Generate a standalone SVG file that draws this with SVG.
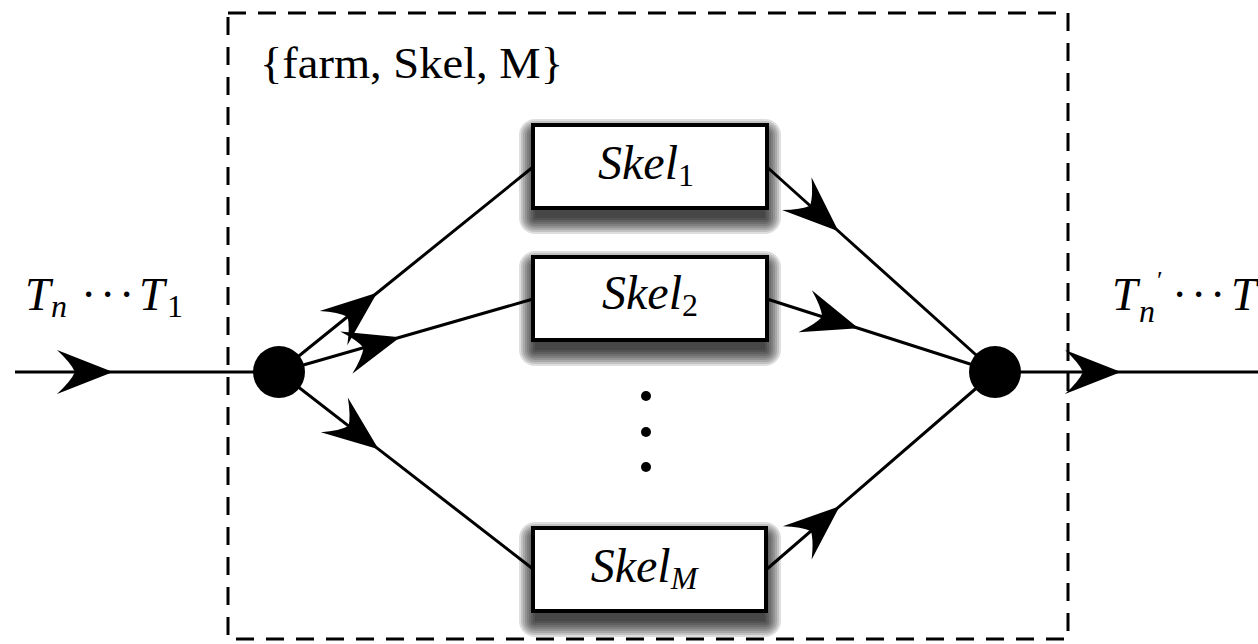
<svg xmlns="http://www.w3.org/2000/svg" width="1258" height="644" viewBox="0 0 1258 644">
  <style>
    .wire { fill: none; stroke: #000; stroke-width: 3; marker-mid: url(#stealth); }
    .box { fill: #fff; stroke: #000; stroke-width: 4; }
    .hub { fill: #000; }
    .math { font-family: "Liberation Serif", "DejaVu Serif", serif; font-style: italic; font-size: 46px; fill: #000; }
    .label { font-size: 48px; }
    .roman { font-family: "Liberation Serif", "DejaVu Serif", serif; font-size: 44px; fill: #000; }
    .sub { font-size: 32px; }
    .up { font-style: normal; }
    .frame { fill: none; stroke: #000; stroke-width: 3; stroke-dasharray: 18 12; }
    .shade rect { fill: #000; fill-opacity: 0.13; }
  </style>
  <defs>
    <marker id="stealth" markerUnits="userSpaceOnUse" viewBox="-58 -25 62 50" refX="0" refY="0" markerWidth="62" markerHeight="50" orient="auto" overflow="visible">
      <path d="M1,0 L-55,-22 Q-41,-9 -37,0 Q-41,9 -55,22 Z" fill="#000"/>
    </marker>
    <!-- soft drop shadow built from stacked translucent rounded rects -->
    <g id="shade" class="shade">
      <rect x="2" y="10" width="230" height="83"/>
      <rect x="0" y="8" width="234" height="87" rx="2"/>
      <rect x="-2" y="6" width="238" height="91" rx="4"/>
      <rect x="-4" y="4" width="242" height="95" rx="6"/>
      <rect x="-6" y="2" width="246" height="99" rx="8"/>
      <rect x="-8" y="0" width="250" height="103" rx="10"/>
      <rect x="-10" y="-2" width="254" height="107" rx="12"/>
      <rect x="-12" y="-4" width="258" height="111" rx="14"/>
      <rect x="-14" y="-6" width="262" height="115" rx="16"/>
    </g>
  </defs>

  <!-- farm boundary -->
  <g id="farm">
    <rect class="frame" x="228" y="13" width="840" height="626"/>
    <text class="roman" x="260" y="78" textLength="303" lengthAdjust="spacingAndGlyphs">{farm, Skel, M}</text>
  </g>

  <!-- stream labels -->
  <g id="input-label">
    <text class="math"><tspan x="25" y="310">T</tspan><tspan class="sub" x="51" y="317">n</tspan><tspan class="up" x="81 100 119" y="310">···</tspan><tspan x="139" y="310">T</tspan><tspan class="sub up" x="167" y="317">1</tspan></text>
  </g>
  <g id="output-label">
    <text class="math"><tspan x="1112" y="310">T</tspan><tspan class="up" font-size="26px" x="1157" y="289">′</tspan><tspan class="sub" x="1139" y="322">n</tspan><tspan class="up" x="1172 1191 1210" y="310">···</tspan><tspan x="1231" y="310">T</tspan></text>
  </g>

  <!-- connectors -->
  <g id="connectors">
    <path class="wire" d="M15,372 L112,372 L279,372"/>
    <path class="wire" d="M279,372 L376.3,293.5 L533,167"/>
    <path class="wire" d="M279,372 L399.1,337.5 L533,299"/>
    <path class="wire" d="M279,372 L377.8,448.6 L533,569"/>
    <path class="wire" d="M767,167 L837.7,230.5 L995,372"/>
    <path class="wire" d="M767,299 L857.5,328 L995,372"/>
    <path class="wire" d="M767,569 L838.9,506.9 L995,372"/>
    <path class="wire" d="M995,372 L1120,372 L1258,372"/>
  </g>

  <!-- split and merge points -->
  <g id="split"><circle class="hub" cx="279" cy="372" r="26"/></g>
  <g id="merge"><circle class="hub" cx="995" cy="372" r="26"/></g>

  <!-- workers -->
  <g id="skel1">
    <use href="#shade" x="533" y="125"/>
    <rect class="box" x="533" y="125" width="234" height="83"/>
    <text class="math label" x="646" y="179" text-anchor="middle">Skel<tspan class="sub up" dy="7">1</tspan></text>
  </g>
  <g id="skel2">
    <use href="#shade" x="533" y="257"/>
    <rect class="box" x="533" y="257" width="234" height="83"/>
    <text class="math label" x="650" y="309" text-anchor="middle">Skel<tspan class="sub up" dy="7">2</tspan></text>
  </g>
  <g id="ellipsis">
    <circle class="hub" cx="646" cy="396" r="5"/>
    <circle class="hub" cx="646" cy="432" r="5"/>
    <circle class="hub" cx="646" cy="467" r="5"/>
  </g>
  <g id="skelM">
    <use href="#shade" x="533" y="528"/>
    <rect class="box" x="533" y="528" width="233" height="83"/>
    <text class="math label" x="644" y="582" text-anchor="middle">Skel<tspan class="sub" dy="7">M</tspan></text>
  </g>
</svg>
